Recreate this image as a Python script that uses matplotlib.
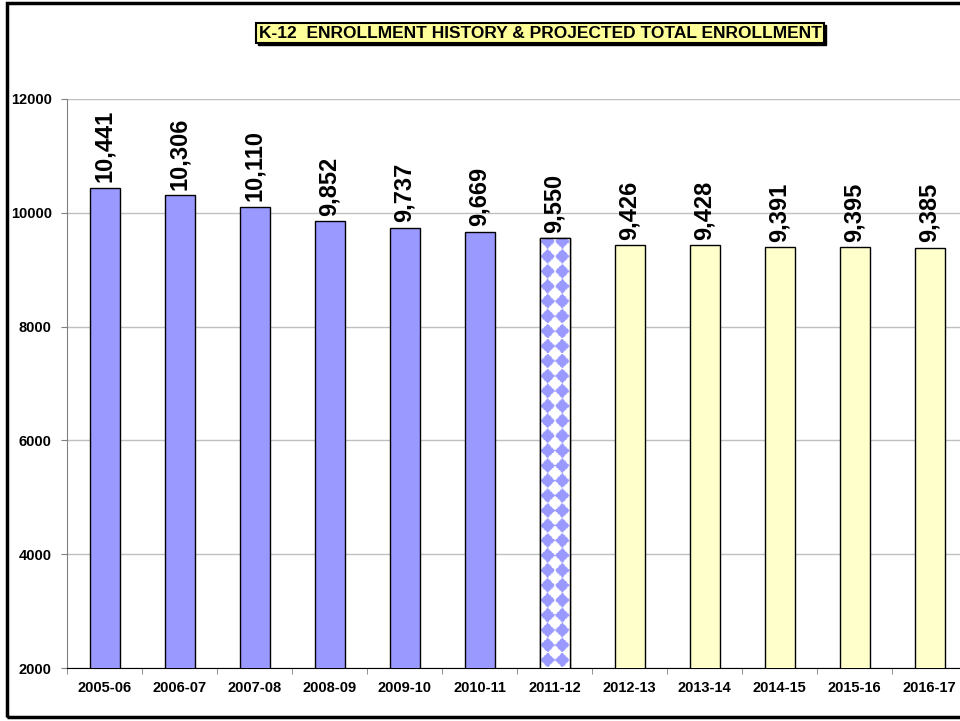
import numpy as np
import matplotlib.pyplot as plt
from matplotlib.patches import Rectangle

# data
years = ['2005-06', '2006-07', '2007-08', '2008-09', '2009-10', '2010-11',
         '2011-12', '2012-13', '2013-14', '2014-15', '2015-16', '2016-17']
enroll = [10441, 10306, 10110, 9852, 9737, 9669, 9550, 9426, 9428, 9391, 9395, 9385]
kind = ['hist'] * 6 + ['current'] + ['proj'] * 5

plt.rcParams['font.family'] = ['Liberation Sans', 'DejaVu Sans']
plt.rcParams['font.weight'] = 'bold'

fig = plt.figure(figsize=(9.6, 7.21), dpi=100)
ax = fig.add_axes([0.0698, 0.0735, 0.9375, 0.7892])

colors = {'hist': '#9999FF', 'current': 'white', 'proj': '#FFFFCC'}
x = np.arange(len(years))
bars = ax.bar(x, enroll, width=0.4, bottom=0,
              color=[colors[k] for k in kind], edgecolor='black', linewidth=1, zorder=3)

ax.set_ylim(2000, 12000)
ax.set_xlim(-0.5, len(years) - 0.5)

# checkered fill for the current year bar
for b, k in zip(bars, kind):
    if k != 'current':
        continue
    x0, w = b.get_x(), b.get_width()
    h = b.get_height()
    n = 400
    gx, gy = np.meshgrid(np.linspace(0, 1, 40), np.linspace(0, 1, n))
    u = gx * 2
    v = (gy * (h - 2000)) / (10000 / 570 * 15)  # ~15 px per diamond row
    pat = (np.abs((u % 1) - 0.5) + np.abs((v % 1) - 0.5)) < 0.5
    img = np.ones((n, 40, 3))
    img[pat] = np.array([0x99, 0x99, 0xFF]) / 255
    im = ax.imshow(img, extent=[x0, x0 + w, 2000, h], aspect='auto', origin='lower',
                   zorder=3.5, interpolation='bilinear')
    im.set_clip_path(b)
    ax.add_patch(Rectangle((x0, 0), w, h, fill=False, edgecolor='black', lw=1, zorder=4))

ax.set_xlim(-0.5, len(years) - 0.5)
ax.set_ylim(2000, 12000)

for xi, v in zip(x, enroll):
    ax.annotate(f'{v:,}', (xi, v), xytext=(0, 4), textcoords='offset points',
                rotation=90, ha='center', va='bottom', fontsize=17, fontweight='bold')

ax.set_yticks(np.arange(2000, 12001, 2000))
ax.set_xticks(x)
ax.set_xticklabels(years)
ax.set_xticks(np.arange(-0.5, len(years)), minor=True)
ax.tick_params(axis='x', which='major', length=0, pad=9, labelsize=10.5)
ax.tick_params(axis='x', which='minor', length=4, color='#808080')
ax.tick_params(axis='y', length=4, color='#808080', labelsize=10.5, pad=7)
ax.grid(axis='y', color='#C0C0C0', lw=1, zorder=0)
for s in ['top', 'right']:
    ax.spines[s].set_visible(False)
ax.spines['left'].set_color('#808080')
ax.spines['bottom'].set_color('black')

title = 'K-12  ENROLLMENT HISTORY & PROJECTED TOTAL ENROLLMENT'
t = fig.text(0.5625, 0.954, title, ha='center', va='center', fontsize=12.5, fontweight='bold',
             zorder=3,
             bbox=dict(boxstyle='square,pad=0.15', fc='#FFFF99', ec='black', lw=1.5))

# drop shadow behind the title box
fig.canvas.draw()
bb = t.get_bbox_patch().get_window_extent().transformed(fig.transFigure.inverted())
dx, dy = 2 / 960, 2 / 721
fig.patches.append(Rectangle((bb.x0 + dx, bb.y0 - dy), bb.width, bb.height,
                             transform=fig.transFigure, fc='black', ec='black', lw=1, zorder=1))

fig.patches.append(Rectangle((7 / 960, 4 / 721), 1.1, 714 / 721, transform=fig.transFigure,
                             fill=False, edgecolor='black', lw=2.5, clip_on=False))

fig.savefig('out.png', dpi=100)
